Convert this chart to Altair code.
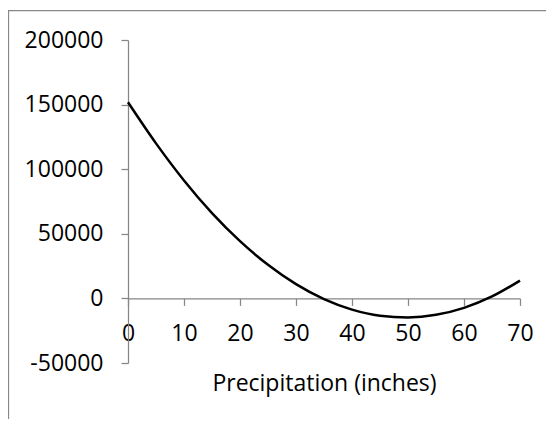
import altair as alt
import pandas as pd

# Values
precip = [0, 5, 10, 15, 20, 25, 30, 35, 40, 45, 50, 55, 60, 65, 70]
value = [151800, 120000, 91300, 66000, 44300, 26000, 11000, -600, -8700,
         -13400, -14700, -12700, -7300, 1500, 13800]
x_ticks = [0, 10, 20, 30, 40, 50, 60, 70]
y_ticks = [-50000, 0, 50000, 100000, 150000, 200000]

df = pd.DataFrame({"Precipitation": precip, "Value": value})

W, H = 392, 323
FONT = "Open Sans"
FS = 23
y_domain = [-50000, 200000]
zero_offset = -H * (0 - y_domain[0]) / (y_domain[1] - y_domain[0])

line = alt.Chart(df).mark_line(
    color="black", strokeWidth=2.5, interpolate="monotone"
).encode(
    x=alt.X(
        "Precipitation:Q",
        scale=alt.Scale(domain=[0, 70], nice=False, zero=False),
        axis=alt.Axis(
            title="Precipitation (inches)",
            values=x_ticks,
            offset=zero_offset,
            grid=False,
            labelFlush=False,
            domainColor="#868686",
            domainWidth=1.25,
            tickColor="#868686",
            tickWidth=1.25,
            tickSize=7,
            labelPadding=17,
            labelFont=FONT,
            labelFontSize=FS,
            labelColor="black",
            titleFont=FONT,
            titleFontSize=23,
            titleFontWeight="normal",
            titleColor="black",
            titlePadding=27,
        ),
    ),
    y=alt.Y(
        "Value:Q",
        scale=alt.Scale(domain=y_domain, nice=False, zero=False),
        axis=alt.Axis(
            title=None,
            values=y_ticks,
            labelExpr="'' + datum.value",
            grid=False,
            labelFlush=False,
            domainColor="#868686",
            domainWidth=1.25,
            tickColor="#868686",
            tickWidth=1.25,
            tickSize=7,
            labelPadding=18,
            labelFont=FONT,
            labelFontSize=FS,
            labelColor="black",
        ),
    ),
)

frame_data = alt.Data(values=[{"k": 1}])
top_border = alt.Chart(frame_data).mark_rule(color="#888888", strokeWidth=1.25).encode(
    x=alt.value(-120), x2=alt.value(420), y=alt.value(-29.5)
)
left_border = alt.Chart(frame_data).mark_rule(color="#888888", strokeWidth=1.25).encode(
    x=alt.value(-119.5), y=alt.value(-29.5), y2=alt.value(400)
)

chart = alt.layer(top_border, left_border, line).properties(
    width=W,
    height=H,
    autosize=alt.AutoSizeParams(type="none"),
    padding={"left": 120, "top": 32, "right": 26, "bottom": 56},
).configure(background="white").configure_view(stroke=None)

chart.save("out.html", embed_options={"renderer": "svg", "actions": False})
